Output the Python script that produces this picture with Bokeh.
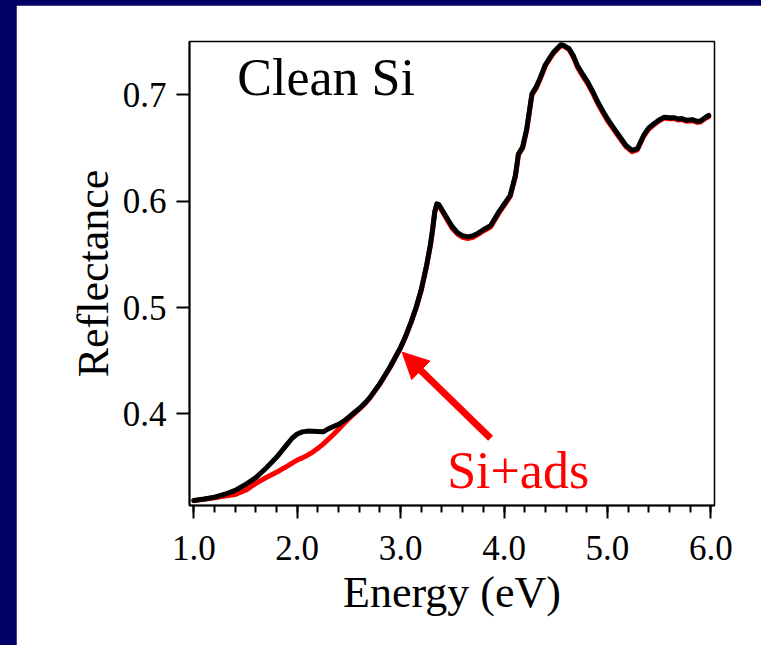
from bokeh.plotting import figure
from bokeh.models import Range1d, FixedTicker, Arrow, NormalHead
from bokeh.core.properties import value
from bokeh.embed import file_html
from bokeh.resources import INLINE

# ---- data ----
energy = [1.00, 1.10, 1.20, 1.30, 1.40, 1.50, 1.60, 1.70, 1.80, 1.90,
          1.95,
          2.00, 2.05, 2.10, 2.15, 2.20, 2.25, 2.30, 2.35, 2.40, 2.45, 2.50, 2.55, 2.60, 2.65, 2.70,
          2.80, 2.90, 3.00,
          3.05, 3.10, 3.15, 3.20, 3.25,
          3.29, 3.31, 3.33, 3.35, 3.37,
          3.40, 3.45, 3.50, 3.55, 3.60, 3.65, 3.70, 3.75, 3.80,
          3.87, 3.95, 4.00, 4.06, 4.11, 4.14, 4.18, 4.22, 4.27, 4.31, 4.35, 4.40, 4.45, 4.48,
          4.55, 4.58, 4.63, 4.67, 4.71, 4.76, 4.81, 4.86, 4.90, 4.95, 5.00, 5.05, 5.10, 5.18,
          5.24, 5.29, 5.35, 5.40, 5.45, 5.50, 5.55, 5.60, 5.65, 5.68, 5.72, 5.77, 5.82, 5.87,
          5.90, 5.95, 5.98]

refl_clean = [0.3185, 0.3198, 0.3215, 0.3243, 0.3280, 0.3335, 0.3400, 0.3490, 0.3590, 0.3710,
              0.3770,
              0.3810, 0.3830, 0.3837, 0.3835, 0.3833, 0.3830, 0.3858, 0.3880, 0.3900, 0.3931, 0.3970, 0.4010, 0.4050, 0.4095, 0.4150,
              0.4285, 0.4445, 0.4625,
              0.4735, 0.4860, 0.5000, 0.5170, 0.5390,
              0.5600, 0.5740, 0.5900, 0.5975, 0.5970,
              0.5920, 0.5840, 0.5760, 0.5705, 0.5675, 0.5665, 0.5675, 0.5700, 0.5732,
              0.5770, 0.5900, 0.5970, 0.6055, 0.6243, 0.6447, 0.6509, 0.6682, 0.7011, 0.7073, 0.7160, 0.7284, 0.7360, 0.7403,
              0.7472, 0.7465, 0.7435, 0.7370, 0.7277, 0.7195, 0.7120, 0.7030, 0.6948, 0.6860, 0.6776, 0.6705, 0.6635, 0.6525,
              0.6478, 0.6494, 0.6619, 0.6690, 0.6729, 0.6765, 0.6791, 0.6785, 0.6785, 0.6775, 0.6778, 0.6762, 0.6768, 0.6752,
              0.6755, 0.6790, 0.6807]

refl_ads = [0.3183, 0.3195, 0.3210, 0.3225, 0.3240, 0.3280, 0.3345, 0.3400, 0.3450, 0.3505,
            0.3535,
            0.3565, 0.3585, 0.3610, 0.3640, 0.3675, 0.3715, 0.3760, 0.3805, 0.3855, 0.3905, 0.3955, 0.4000, 0.4043, 0.4090, 0.4145,
            0.4280, 0.4440, 0.4620,
            0.4730, 0.4855, 0.4995, 0.5165, 0.5385,
            0.5595, 0.5735, 0.5895, 0.5970, 0.5962,
            0.5910, 0.5825, 0.5745, 0.5690, 0.5660, 0.5650, 0.5660, 0.5688, 0.5720,
            0.5758, 0.5888, 0.5960, 0.6045, 0.6232, 0.6437, 0.6500, 0.6672, 0.7000, 0.7062, 0.7150, 0.7275, 0.7352, 0.7395,
            0.7465, 0.7458, 0.7425, 0.7358, 0.7262, 0.7180, 0.7105, 0.7015, 0.6932, 0.6845, 0.6760, 0.6690, 0.6620, 0.6512,
            0.6466, 0.6484, 0.6607, 0.6680, 0.6720, 0.6756, 0.6782, 0.6776, 0.6776, 0.6765, 0.6768, 0.6752, 0.6758, 0.6742,
            0.6745, 0.6780, 0.6797]

x_ticks = [1.0, 2.0, 3.0, 4.0, 5.0, 6.0]
x_tick_labels = ["1.0", "2.0", "3.0", "4.0", "5.0", "6.0"]
x_minor_ticks = [1.0 + 0.2 * i for i in range(26)]
y_ticks = [0.4, 0.5, 0.6, 0.7]
y_tick_labels = ["0.4", "0.5", "0.6", "0.7"]

annot_text = ["Clean Si", "Si+ads"]
annot_x = [1.42, 3.45]
annot_y = [0.6892, 0.3195]
annot_color = ["black", "#ff0000"]

FONT = "Liberation Serif"
NAVY = "#000066"

p = figure(width=745, height=640,
           x_range=Range1d(0.958, 6.036), y_range=Range1d(0.3137, 0.7503),
           output_backend="svg", toolbar_location=None,
           min_border_left=173, min_border_right=47,
           min_border_top=36, min_border_bottom=140)

p.background_fill_color = "white"
p.border_fill_color = "white"
p.outline_line_color = "black"
p.outline_line_width = 1.5
p.grid.visible = False

p.xaxis.ticker = FixedTicker(ticks=x_ticks, minor_ticks=x_minor_ticks)
p.yaxis.ticker = FixedTicker(ticks=y_ticks, minor_ticks=[])
p.xaxis.major_label_overrides = {t: l for t, l in zip(x_ticks, x_tick_labels)}
p.yaxis.major_label_overrides = {t: l for t, l in zip(y_ticks, y_tick_labels)}

for ax in (p.xaxis, p.yaxis):
    ax.axis_line_width = 2
    ax.axis_line_color = "black"
    ax.major_tick_line_width = 2
    ax.minor_tick_line_width = 2
    ax.major_tick_line_color = "black"
    ax.minor_tick_line_color = "black"
    ax.major_tick_in = 0
    ax.major_tick_out = 13
    ax.minor_tick_in = 0
    ax.minor_tick_out = 7
    ax.major_label_text_font = FONT
    ax.major_label_text_font_size = "35px"
    ax.major_label_text_color = "black"
    ax.axis_label_text_font = FONT
    ax.axis_label_text_font_size = "44px"
    ax.axis_label_text_font_style = "normal"
    ax.axis_label_text_color = "black"

p.xaxis.axis_label = "Energy (eV)"
p.yaxis.axis_label = "Reflectance"
p.xaxis.major_label_standoff = 17
p.yaxis.major_label_standoff = 10
p.xaxis.axis_label_standoff = 5
p.yaxis.axis_label_standoff = 2

p.line(energy, refl_ads, line_color="#ff0000", line_width=5, line_join="round", line_cap="round")
p.line(energy, refl_clean, line_color="black", line_width=5, line_join="round", line_cap="round")

p.add_layout(Arrow(end=NormalHead(size=26, fill_color="#ff0000", line_color="#ff0000", line_width=1),
                   x_start=3.87, y_start=0.377, x_end=3.015, y_end=0.458,
                   line_color="#ff0000", line_width=7))

p.text(x=annot_x, y=annot_y, text=annot_text, text_color=annot_color,
       text_font=value(FONT), text_font_size="52px", text_baseline="bottom",
       text_align="left")

html = file_html(p, INLINE, title="Reflectance")
style = ("<style>html,body{margin:0;padding:0;overflow:hidden;background:%s;}"
         "body{padding:5px 0 0 16px;}</style>" % NAVY)
html = html.replace("</head>", style + "</head>", 1)
open("out.html", "w").write(html)
